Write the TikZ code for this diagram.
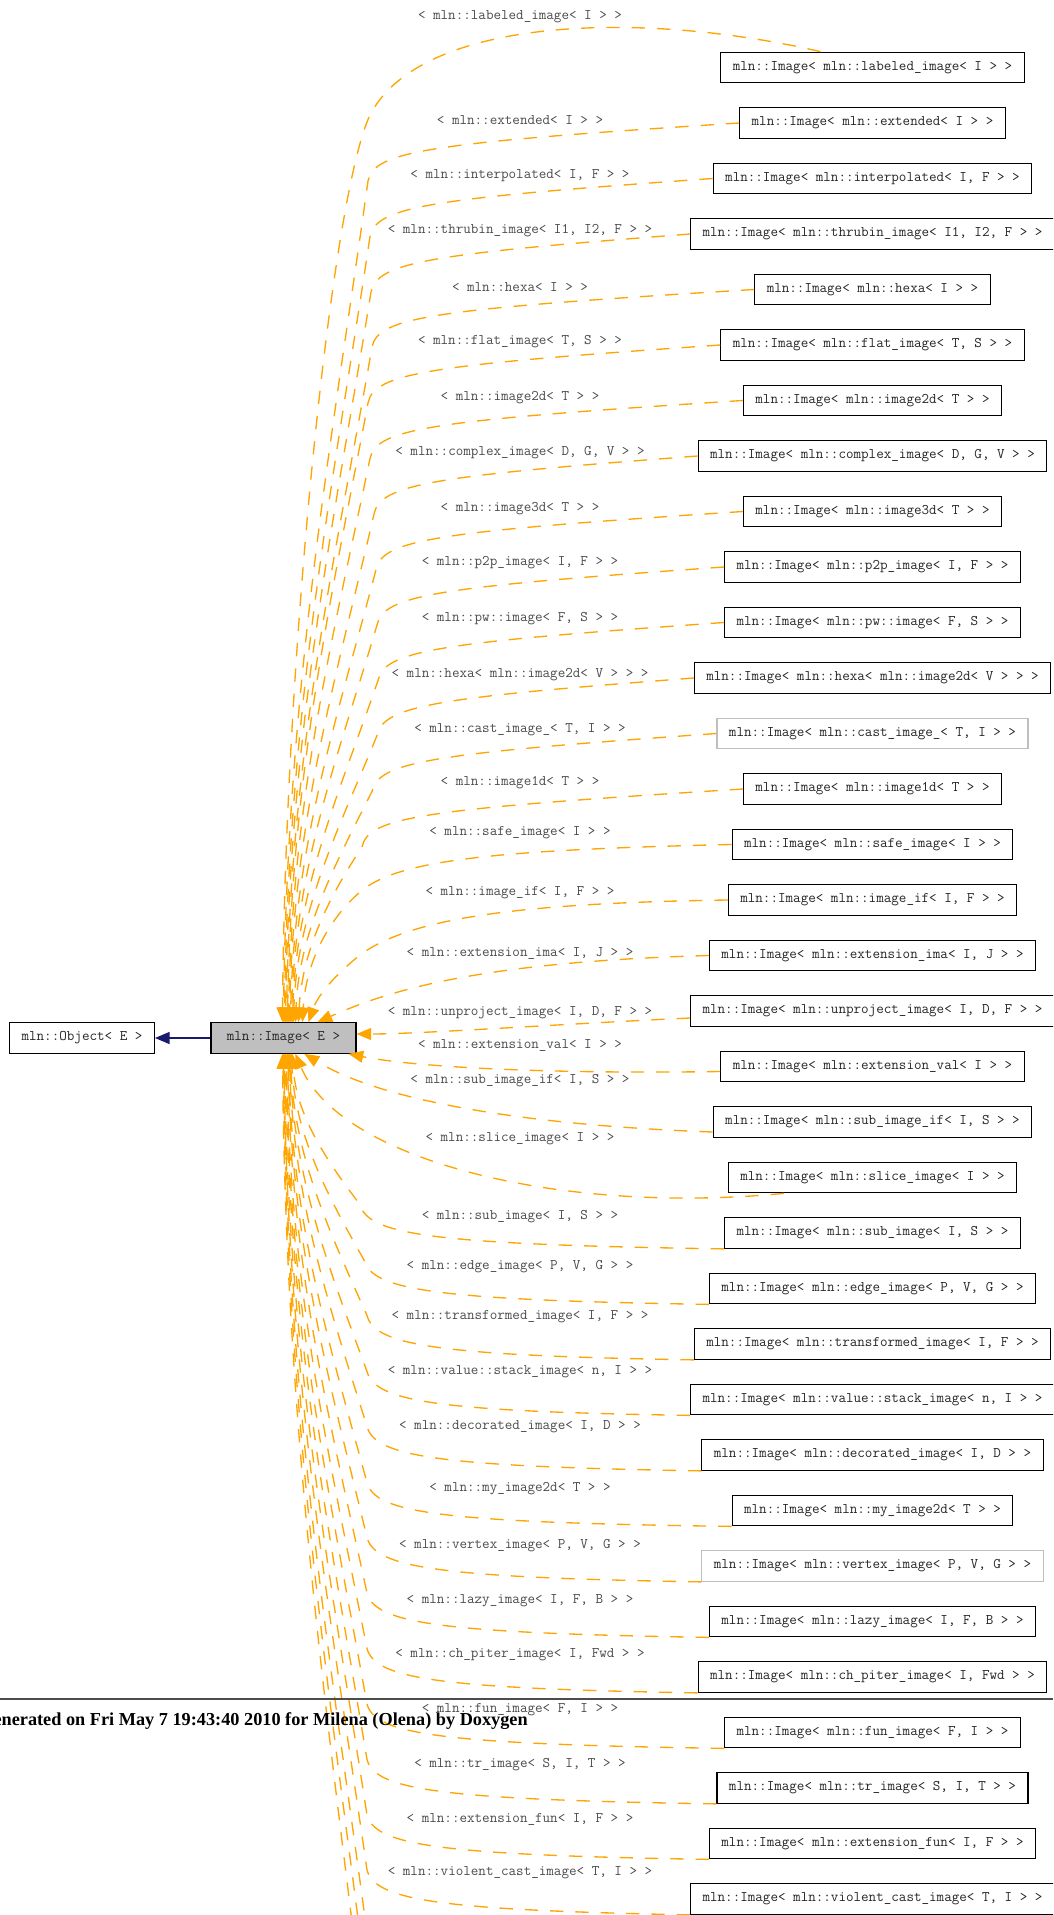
\documentclass[tikz,border=0pt]{standalone}
\usepackage{fontspec}
\newfontfamily\footfont{Liberation Serif}
\usepackage{tikz}
\usetikzlibrary{arrows.meta,positioning,calc}
\definecolor{inhline}{RGB}{255,165,0}
\definecolor{useline}{RGB}{25,25,112}
\definecolor{basefill}{RGB}{191,191,191}

\begin{document}
\begin{tikzpicture}[
  x=0.75pt, y=-0.75pt,
  font=\fontsize{11}{13}\selectfont\ttfamily,
  node distance=17.825pt,
  box/.style={draw=black, line width=0.8pt, fill=white, minimum height=23pt, inner xsep=9pt, text=black!85},
  ghost/.style={box, draw=black!25},
  base/.style={box, fill=basefill, minimum width=108.75pt},
  lbl/.style={inner sep=1pt, text=black!70},
  inh/.style={draw=inhline, line width=1pt, dash pattern=on 10pt off 9pt, -{Triangle[length=11pt,width=9pt]}},
  uses/.style={draw=useline, line width=1pt, -{Triangle[length=11pt,width=9pt]}},
  rule/.style={draw=black!70, line width=1.2pt}
]
\useasboundingbox (0,0) rectangle (1053,1915);
\clip (0,0) rectangle (1053,1915);
\fill[white] (0,0) rectangle (1053,1915);

% base classes
\node[box] (obj) at (82,1038) {mln::Object< E >};
\node[base] (img) at (283.5,1038) {mln::Image< E >};

% derived classes
\node[box] (lab) at (872.5,67.5) {mln::Image< mln::labeled\_image< I > >};
\node[box, below=of lab] (ext) {mln::Image< mln::extended< I > >};
\node[box, below=of ext] (itp) {mln::Image< mln::interpolated< I, F > >};
\node[box, below=of itp] (thr) {mln::Image< mln::thrubin\_image< I1, I2, F > >};
\node[box, below=of thr] (hex) {mln::Image< mln::hexa< I > >};
\node[box, below=of hex] (flat) {mln::Image< mln::flat\_image< T, S > >};
\node[box, below=of flat] (im2) {mln::Image< mln::image2d< T > >};
\node[box, below=of im2] (cpx) {mln::Image< mln::complex\_image< D, G, V > >};
\node[box, below=of cpx] (im3) {mln::Image< mln::image3d< T > >};
\node[box, below=of im3] (p2p) {mln::Image< mln::p2p\_image< I, F > >};
\node[box, below=of p2p] (pw) {mln::Image< mln::pw::image< F, S > >};
\node[box, below=of pw] (hx2) {mln::Image< mln::hexa< mln::image2d< V > > >};
\node[ghost, below=of hx2] (cast) {mln::Image< mln::cast\_image\_< T, I > >};
\node[box, below=of cast] (im1) {mln::Image< mln::image1d< T > >};
\node[box, below=of im1] (safe) {mln::Image< mln::safe\_image< I > >};
\node[box, below=of safe] (imif) {mln::Image< mln::image\_if< I, F > >};
\node[box, below=of imif] (exima) {mln::Image< mln::extension\_ima< I, J > >};
\node[box, below=of exima] (unp) {mln::Image< mln::unproject\_image< I, D, F > >};
\node[box, below=of unp] (exval) {mln::Image< mln::extension\_val< I > >};
\node[box, below=of exval] (subif) {mln::Image< mln::sub\_image\_if< I, S > >};
\node[box, below=of subif] (slc) {mln::Image< mln::slice\_image< I > >};
\node[box, below=of slc] (sub) {mln::Image< mln::sub\_image< I, S > >};
\node[box, below=of sub] (edge) {mln::Image< mln::edge\_image< P, V, G > >};
\node[box, below=of edge] (trf) {mln::Image< mln::transformed\_image< I, F > >};
\node[box, below=of trf] (stk) {mln::Image< mln::value::stack\_image< n, I > >};
\node[box, below=of stk] (dec) {mln::Image< mln::decorated\_image< I, D > >};
\node[box, below=of dec] (my2) {mln::Image< mln::my\_image2d< T > >};
\node[ghost, below=of my2] (vtx) {mln::Image< mln::vertex\_image< P, V, G > >};
\node[box, below=of vtx] (lazy) {mln::Image< mln::lazy\_image< I, F, B > >};
\node[box, below=of lazy] (chp) {mln::Image< mln::ch\_piter\_image< I, Fwd > >};
\node[box, below=of chp] (fun) {mln::Image< mln::fun\_image< F, I > >};
\node[box, below=of fun] (tr) {mln::Image< mln::tr\_image< S, I, T > >};
\node[box, below=of tr] (exfun) {mln::Image< mln::extension\_fun< I, F > >};
\node[box, below=of exfun] (vcast) {mln::Image< mln::violent\_cast\_image< T, I > >};
% classes below the page
\coordinate (more1) at (720,1969);
\coordinate (more2) at (720,2024.5);
\coordinate (more3) at (720,2080);

% edge labels
\node[lbl] (t01) at (520,17) {< mln::labeled\_image< I > >};
\node[lbl] (t02) at (520,120) {< mln::extended< I > >};
\node[lbl] (t03) at (520,176) {< mln::interpolated< I, F > >};
\node[lbl] (t04) at (520,231) {< mln::thrubin\_image< I1, I2, F > >};
\node[lbl] (t05) at (520,287) {< mln::hexa< I > >};
\node[lbl] (t06) at (520,342) {< mln::flat\_image< T, S > >};
\node[lbl] (t07) at (520,398) {< mln::image2d< T > >};
\node[lbl] (t08) at (520,453) {< mln::complex\_image< D, G, V > >};
\node[lbl] (t09) at (520,509) {< mln::image3d< T > >};
\node[lbl] (t10) at (520,563) {< mln::p2p\_image< I, F > >};
\node[lbl] (t11) at (520,619) {< mln::pw::image< F, S > >};
\node[lbl] (t12) at (520,675) {< mln::hexa< mln::image2d< V > > >};
\node[lbl] (t13) at (520,730) {< mln::cast\_image\_< T, I > >};
\node[lbl] (t14) at (520,783) {< mln::image1d< T > >};
\node[lbl] (t15) at (520,833) {< mln::safe\_image< I > >};
\node[lbl] (t16) at (520,893) {< mln::image\_if< I, F > >};
\node[lbl] (t17) at (520,953) {< mln::extension\_ima< I, J > >};
\node[lbl] (t18) at (520,1013) {< mln::unproject\_image< I, D, F > >};
\node[lbl] (t19) at (520,1045) {< mln::extension\_val< I > >};
\node[lbl] (t20) at (520,1081) {< mln::sub\_image\_if< I, S > >};
\node[lbl] (t21) at (520,1139) {< mln::slice\_image< I > >};
\node[lbl] (t22) at (520,1217) {< mln::sub\_image< I, S > >};
\node[lbl] (t23) at (520,1267) {< mln::edge\_image< P, V, G > >};
\node[lbl] (t24) at (520,1317) {< mln::transformed\_image< I, F > >};
\node[lbl] (t25) at (520,1372) {< mln::value::stack\_image< n, I > >};
\node[lbl] (t26) at (520,1427) {< mln::decorated\_image< I, D > >};
\node[lbl] (t27) at (520,1489) {< mln::my\_image2d< T > >};
\node[lbl] (t28) at (520,1546) {< mln::vertex\_image< P, V, G > >};
\node[lbl] (t29) at (520,1601) {< mln::lazy\_image< I, F, B > >};
\node[lbl] (t30) at (520,1655) {< mln::ch\_piter\_image< I, Fwd > >};
\node[lbl] (t31) at (520,1710) {< mln::fun\_image< F, I > >};
\node[lbl] (t32) at (520,1765) {< mln::tr\_image< S, I, T > >};
\node[lbl] (t33) at (520,1819) {< mln::extension\_fun< I, F > >};
\node[lbl] (t34) at (520,1873) {< mln::violent\_cast\_image< T, I > >};

% inheritance
\draw[uses] (img) -- (obj);

% upper fan
\draw[inh] ($(lab.north)+(-52,0)$) .. controls (640,10) and (430,18) .. (374,108) .. controls (334,165) and (285,650) .. ($(img.north west)+(72,0)$);
\draw[inh] (ext.west) .. controls (428,143) and (374,151) .. (368,181) .. controls (333,433.6) and (287,686.2) .. ($(img.north west)+(73,0)$);
\draw[inh] (itp.west) .. controls (430,198.5) and (376,206.5) .. (370,236.5) .. controls (335,472.5) and (288,708.4) .. ($(img.north west)+(74,0)$);
\draw[inh] (thr.west) .. controls (431,254) and (377,262) .. (371,292) .. controls (336,511.3) and (289,730.6) .. ($(img.north west)+(75,0)$);
\draw[inh] (hex.west) .. controls (432,309) and (378,317) .. (372,347) .. controls (337,549.8) and (290,752.6) .. ($(img.north west)+(76,0)$);
\draw[inh] (flat.west) .. controls (428,365) and (374,373) .. (368,403) .. controls (333,589) and (291,775) .. ($(img.north west)+(77,0)$);
\draw[inh] (im2.west) .. controls (430,420.5) and (376,428.5) .. (370,458.5) .. controls (335,627.9) and (292,797.2) .. ($(img.north west)+(78,0)$);
\draw[inh] (cpx.west) .. controls (434,476) and (380,484) .. (374,514) .. controls (339,666.7) and (293,819.4) .. ($(img.north west)+(79,0)$);
\draw[inh] (im3.west) .. controls (436,531.5) and (382,539.5) .. (376,569.5) .. controls (341,705.5) and (294,841.6) .. ($(img.north west)+(80,0)$);
\draw[inh] (p2p.west) .. controls (437,587) and (383,595) .. (377,625) .. controls (342,744.4) and (295,863.8) .. ($(img.north west)+(81,0)$);
\draw[inh] (pw.west) .. controls (438,642.5) and (384,650.5) .. (378,680.5) .. controls (343,783.3) and (296,886) .. ($(img.north west)+(82,0)$);
\draw[inh] (hx2.west) .. controls (437,697.5) and (383,705.5) .. (377,735.5) .. controls (342,821.8) and (297,908) .. ($(img.north west)+(83,0)$);
\draw[inh] (cast.west) .. controls (432,753.5) and (378,761.5) .. (372,791.5) .. controls (337,861) and (299,930.4) .. ($(img.north west)+(85,0)$);
\draw[inh] (im1.west) .. controls (422,809) and (368,817) .. (362,847) .. controls (327,899.8) and (302,952.6) .. ($(img.north west)+(88,0)$);
\draw[inh] (safe.west) .. controls (480,850) and (395,862) .. (360,892) .. controls (330,918) and (306,960) .. ($(img.north west)+(92,0)$);
\draw[inh] (imif.west) .. controls (520,903) and (410,918) .. (360,955) .. controls (335,975) and (318,995) .. ($(img.north west)+(98,0)$);
\draw[inh] (exima.west) .. controls (480,962) and (390,990) .. ($(img.north west)+(107,0)$);

% side
\draw[inh] ($(unp.west)+(0,7)$) .. controls (560,1024) and (420,1034) .. ($(img.east)+(0,-4)$);
\draw[inh] ($(exval.west)+(0,5)$) .. controls (560,1074) and (420,1068) .. ($(img.south east)+(-8,0)$);
\draw[inh] ($(subif.west)+(0,10)$) .. controls (520,1125) and (380,1100) .. ($(img.south west)+(94,0)$);
\draw[inh] ($(slc.south west)+(56,0)$) .. controls (560,1215) and (340,1160) .. ($(img.south west)+(85,0)$);

% lower fan
\draw[inh] (sub.south west) .. controls (430,1244.5) and (368,1234.5) .. (360,1204.5) .. controls (325,1159.1) and (296,1113.6) .. ($(img.south west)+(82,0)$);
\draw[inh] (edge.south west) .. controls (434,1300) and (372,1290) .. (364,1260) .. controls (329,1197.9) and (295,1135.8) .. ($(img.south west)+(81,0)$);
\draw[inh] (trf.south west) .. controls (437,1355.5) and (375,1345.5) .. (367,1315.5) .. controls (332,1236.8) and (294,1158) .. ($(img.south west)+(80,0)$);
\draw[inh] (stk.south west) .. controls (437,1411.5) and (375,1401.5) .. (367,1371.5) .. controls (332,1276) and (293.5,1180.4) .. ($(img.south west)+(79.5,0)$);
\draw[inh] (dec.south west) .. controls (437,1466.5) and (375,1456.5) .. (367,1426.5) .. controls (332,1314.5) and (293,1202.4) .. ($(img.south west)+(79,0)$);
\draw[inh] (my2.south west) .. controls (437,1522.5) and (375,1512.5) .. (367,1482.5) .. controls (332,1353.7) and (292,1224.8) .. ($(img.south west)+(78,0)$);
\draw[inh] (vtx.south west) .. controls (437,1577.5) and (375,1567.5) .. (367,1537.5) .. controls (332,1392.2) and (291.5,1246.8) .. ($(img.south west)+(77.5,0)$);
\draw[inh] (lazy.south west) .. controls (437,1633) and (375,1623) .. (367,1593) .. controls (332,1431) and (291,1269) .. ($(img.south west)+(77,0)$);
\draw[inh] (chp.south west) .. controls (437,1688.5) and (375,1678.5) .. (367,1648.5) .. controls (332,1469.9) and (290,1291.2) .. ($(img.south west)+(76,0)$);
\draw[inh] (fun.south west) .. controls (437,1744) and (375,1734) .. (367,1704) .. controls (332,1508.7) and (289.5,1313.4) .. ($(img.south west)+(75.5,0)$);
\draw[inh] (tr.south west) .. controls (437,1799.5) and (375,1789.5) .. (367,1759.5) .. controls (332,1547.6) and (289,1335.6) .. ($(img.south west)+(75,0)$);
\draw[inh] (exfun.south west) .. controls (437,1855) and (375,1845) .. (367,1815) .. controls (332,1586.4) and (288,1357.8) .. ($(img.south west)+(74,0)$);
\draw[inh] (vcast.south west) .. controls (437,1910) and (375,1900) .. (367,1870) .. controls (332,1624.9) and (287.5,1379.8) .. ($(img.south west)+(73.5,0)$);
\draw[inh] (more1) .. controls (436,1965.5) and (374,1955.5) .. (366,1925.5) .. controls (331,1663.8) and (287,1402) .. ($(img.south west)+(73,0)$);
\draw[inh] (more2) .. controls (436,2021) and (374,2011) .. (366,1981) .. controls (331,1702.6) and (286.5,1424.2) .. ($(img.south west)+(72.5,0)$);
\draw[inh] (more3) .. controls (436,2076.5) and (374,2066.5) .. (366,2036.5) .. controls (331,1741.5) and (286,1446.4) .. ($(img.south west)+(72,0)$);

% page footer
\draw[rule] (0,1699) -- (1053,1699);
\node[anchor=base east, inner sep=0pt, font=\footfont\bfseries\fontsize{13.7}{16}\selectfont] (gen) at (528,1725) {Generated on Fri May 7 19:43:40 2010 for Milena (Olena) by Doxygen};
\end{tikzpicture}
\end{document}
